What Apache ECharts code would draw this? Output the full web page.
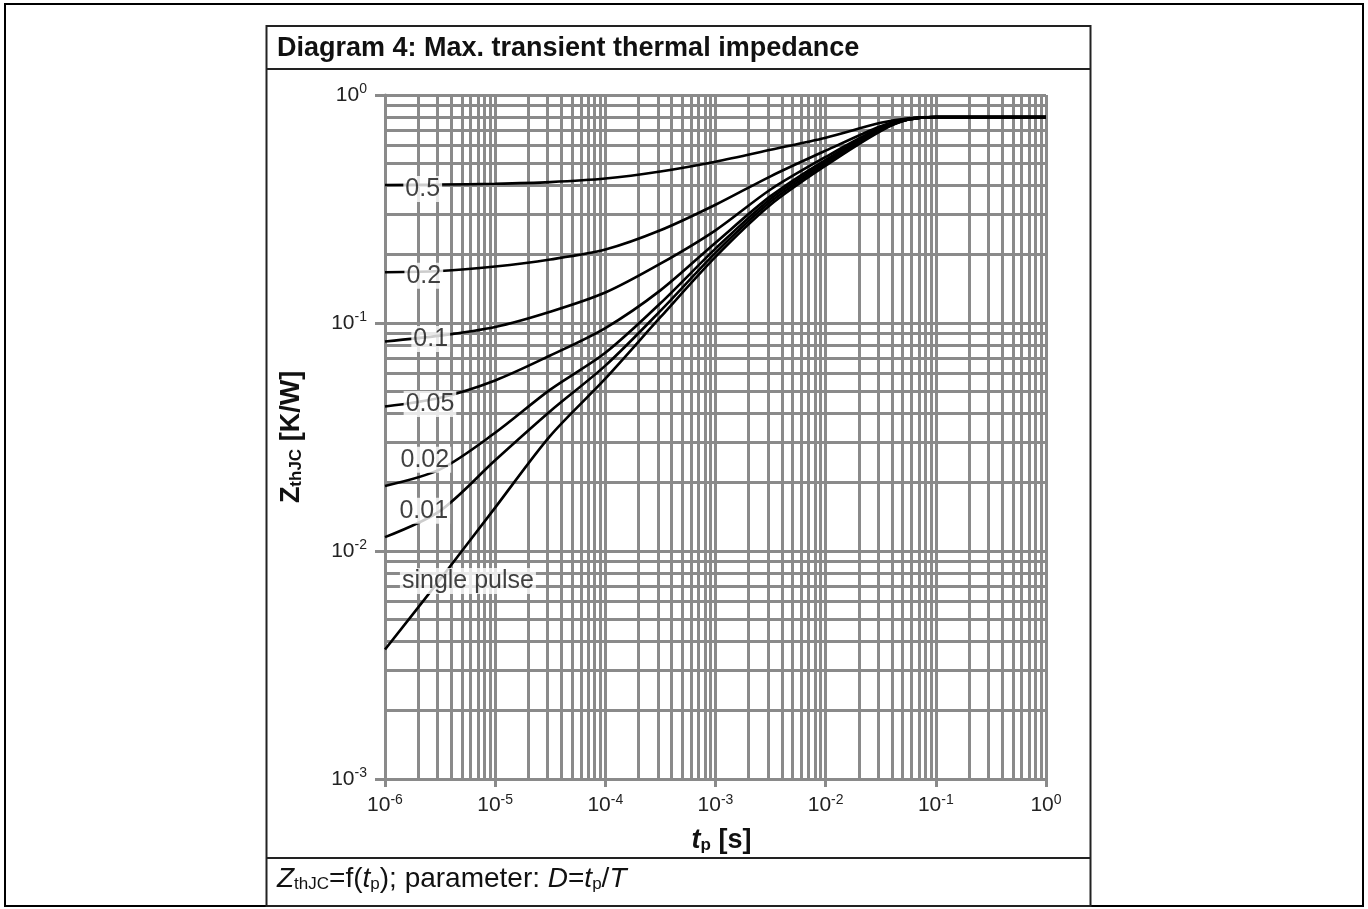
<!DOCTYPE html>
<html>
<head>
<meta charset="utf-8">
<script src="https://cdn.jsdelivr.net/npm/echarts@6/dist/echarts.min.js"></script>
<style>
html,body{margin:0;padding:0;background:#fff;}
#chart{width:1368px;height:909px;}
</style>
</head>
<body>
<div id="chart"></div>
<script>
// ---- data ----
var tp = [1e-6, 3.16e-6, 1e-5, 3.16e-5, 1e-4, 3.16e-4, 1e-3, 3.16e-3, 1e-2, 3.16e-2, 5.62e-2, 1e-1, 3.16e-1, 1];
var zD05  = [0.403, 0.405, 0.408, 0.415, 0.43, 0.462, 0.51, 0.575, 0.65, 0.755, 0.79, 0.80, 0.80, 0.80];
var zD02  = [0.167, 0.169, 0.177, 0.19, 0.21, 0.255, 0.33, 0.44, 0.57, 0.73, 0.785, 0.80, 0.80, 0.80];
var zD01  = [0.083, 0.088, 0.096, 0.112, 0.136, 0.182, 0.255, 0.385, 0.535, 0.72, 0.785, 0.80, 0.80, 0.80];
var zD005 = [0.043, 0.047, 0.056, 0.072, 0.095, 0.139, 0.225, 0.36, 0.52, 0.71, 0.78, 0.80, 0.80, 0.80];
var zD002 = [0.0193, 0.0228, 0.033, 0.051, 0.074, 0.122, 0.212, 0.35, 0.51, 0.705, 0.78, 0.80, 0.80, 0.80];
var zD001 = [0.0115, 0.015, 0.025, 0.041, 0.065, 0.113, 0.203, 0.34, 0.50, 0.70, 0.78, 0.80, 0.80, 0.80];
var zSingle = [0.0037, 0.0075, 0.0155, 0.032, 0.057, 0.106, 0.195, 0.33, 0.49, 0.695, 0.78, 0.80, 0.80, 0.80];

var curveNames = ['0.5', '0.2', '0.1', '0.05', '0.02', '0.01', 'single pulse'];
var curveValues = [zD05, zD02, zD01, zD005, zD002, zD001, zSingle];

// label anchor positions (data coords: tp, Z)
var labelTp = [2.2e-6, 2.25e-6, 2.6e-6, 2.56e-6, 2.3e-6, 2.25e-6, 5.66e-6];
var labelZ  = [0.387, 0.161, 0.085, 0.0441, 0.0251, 0.015, 0.00738];

// axis tick labels (exponents of 10)
var xTickExps = ['-6', '-5', '-4', '-3', '-2', '-1', '0'];
var yTickExps = ['-3', '-2', '-1', '0'];
var xDecades = [1e-6, 1e-5, 1e-4, 1e-3, 1e-2, 1e-1];
var yDecades = [1e-3, 1e-2, 1e-1];
var gridMultipliers = [2, 3, 4, 5, 6, 7, 8, 9];
var xRange = [1e-6, 1];
var yRange = [1e-3, 1];

// ---- build ----
var GRID = '#8a8a8a';
var FONT = 'Liberation Sans, Arial, sans-serif';

var gridSegs = [];
xDecades.forEach(function (d) { gridMultipliers.forEach(function (m) {
  gridSegs.push({ coords: [[d * m, yRange[0]], [d * m, yRange[1]]] });
}); });
yDecades.forEach(function (d) { gridMultipliers.forEach(function (m) {
  gridSegs.push({ coords: [[xRange[0], d * m], [xRange[1], d * m]] });
}); });

function expOf(v) { return Math.round(Math.log(v) / Math.LN10); }

var series = [];
series.push({
  type: 'lines', coordinateSystem: 'cartesian2d', name: 'grid', z: 1, silent: true, animation: false,
  lineStyle: { color: GRID, width: 3, opacity: 1, curveness: 0 },
  effect: { show: false },
  data: gridSegs
});
curveValues.forEach(function (vals, i) {
  series.push({
    type: 'line', name: curveNames[i], z: 3, smooth: 0.3, showSymbol: false, symbol: 'none',
    lineStyle: { color: '#000', width: 2.6 },
    data: tp.map(function (t, k) { return [t, vals[k]]; }),
    animation: false, silent: true
  });
});
series.push({
  type: 'scatter', name: 'labels', z: 6, symbolSize: 0, silent: true, animation: false,
  data: curveNames.map(function (n, i) { return { value: [labelTp[i], labelZ[i]], name: n }; }),
  label: {
    show: true, position: 'inside', formatter: '{b}',
    fontFamily: FONT, fontSize: 25, color: '#111',
    backgroundColor: '#fff', padding: [1, 2, 0, 2]
  }
});

var chart = echarts.init(document.getElementById('chart'), null, { renderer: 'canvas' });
chart.setOption({
  animation: false,
  backgroundColor: '#fff',
  title: {
    text: 'Diagram 4: Max. transient thermal impedance',
    left: 272, top: 30,
    textStyle: { fontFamily: FONT, fontWeight: 'bold', fontSize: 27, color: '#111' }
  },
  grid: { left: 385, right: 322, top: 95, bottom: 130, containLabel: false },
  xAxis: {
    type: 'log', logBase: 10, min: xRange[0], max: xRange[1], splitNumber: 6,
    name: '{bi|t}{sub|p}{b| [s]}', nameLocation: 'middle', nameGap: 48,
    nameTextStyle: {
      padding: [0, 0, 0, 12],
      rich: {
        bi: { fontFamily: FONT, fontSize: 27, fontWeight: 'bold', fontStyle: 'italic', color: '#111' },
        b: { fontFamily: FONT, fontSize: 27, fontWeight: 'bold', color: '#111' },
        sub: { fontFamily: FONT, fontSize: 17, fontWeight: 'bold', color: '#111', verticalAlign: 'bottom', padding: [7, 0, 0, 0] }
      }
    },
    axisLine: { show: true, lineStyle: { color: GRID, width: 3 } },
    axisTick: { show: true, length: 8, lineStyle: { color: GRID, width: 3 } },
    splitLine: { show: true, lineStyle: { color: GRID, width: 3 } },
    axisLabel: {
      margin: 14,
      formatter: function (v) { return '{b|10}{s|' + xTickExps[expOf(v) + 6] + '}'; },
      rich: {
        b: { fontFamily: FONT, fontSize: 21, color: '#222' },
        s: { fontFamily: FONT, fontSize: 14, color: '#222', verticalAlign: 'top', padding: [0, 0, 11, 0] }
      }
    }
  },
  yAxis: {
    type: 'log', logBase: 10, min: yRange[0], max: yRange[1], splitNumber: 3,
    name: '{b|Z}{sub|thJC}{b| [K/W]}', nameLocation: 'middle', nameGap: 80,
    nameTextStyle: {
      rich: {
        b: { fontFamily: FONT, fontSize: 27, fontWeight: 'bold', color: '#111' },
        sub: { fontFamily: FONT, fontSize: 17, fontWeight: 'bold', color: '#111', verticalAlign: 'bottom', padding: [7, 0, 0, 0] }
      }
    },
    axisLine: { show: true, lineStyle: { color: GRID, width: 3 } },
    axisTick: { show: true, length: 10, lineStyle: { color: GRID, width: 3 } },
    splitLine: { show: true, lineStyle: { color: GRID, width: 3 } },
    axisLabel: {
      margin: 18,
      formatter: function (v) { return '{b|10}{s|' + yTickExps[expOf(v) + 3] + '}'; },
      rich: {
        b: { fontFamily: FONT, fontSize: 21, color: '#222' },
        s: { fontFamily: FONT, fontSize: 14, color: '#222', verticalAlign: 'top', padding: [0, 0, 11, 0] }
      }
    }
  },
  graphic: [
    { type: 'rect', silent: true, z: 100, shape: { x: 5, y: 4, width: 1358, height: 902 }, style: { fill: 'none', stroke: '#000', lineWidth: 2 } },
    { type: 'rect', silent: true, z: 100, shape: { x: 266.5, y: 26, width: 824, height: 880 }, style: { fill: 'none', stroke: '#222', lineWidth: 2 } },
    { type: 'line', silent: true, z: 100, shape: { x1: 266, y1: 69, x2: 1091, y2: 69 }, style: { stroke: '#222', lineWidth: 2 } },
    { type: 'line', silent: true, z: 100, shape: { x1: 266, y1: 858, x2: 1091, y2: 858 }, style: { stroke: '#222', lineWidth: 2 } },
    {
      type: 'text', silent: true, z: 100, left: 277, top: 865,
      style: {
        text: '{i|Z}{sub|thJC}{n|=f(}{i|t}{sub|p}{n|); parameter: }{i|D}{n|=}{i|t}{sub|p}{n|/}{i|T}',
        rich: {
          n: { fontFamily: FONT, fontSize: 28, fill: '#111' },
          i: { fontFamily: FONT, fontSize: 28, fontStyle: 'italic', fill: '#111' },
          sub: { fontFamily: FONT, fontSize: 17, fill: '#111', verticalAlign: 'bottom', padding: [7, 0, 0, 0] }
        }
      }
    }
  ],
  series: series
});
</script>
</body>
</html>
